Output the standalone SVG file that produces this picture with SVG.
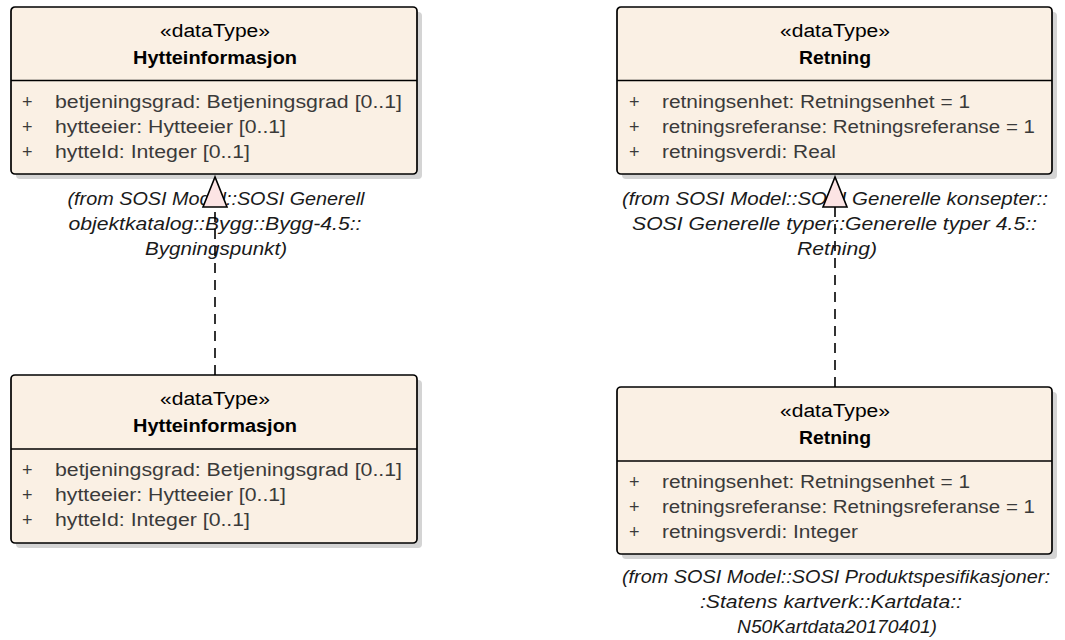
<svg xmlns="http://www.w3.org/2000/svg" width="1065" height="640" viewBox="0 0 1065 640">
<defs>
<style>
.shadow{fill:#d4d4d4;}
.box{fill:#FAF0E4;stroke:#000;stroke-width:1.7;}
.div{stroke:#000;stroke-width:1.6;}
.st{font-family:"Liberation Sans",Arial,sans-serif;font-size:18px;fill:#000;text-anchor:middle;}
.nm{font-family:"Liberation Sans",Arial,sans-serif;font-size:17.5px;font-weight:bold;fill:#000;text-anchor:middle;}
.at{font-family:"Liberation Sans",Arial,sans-serif;font-size:18px;fill:#3a3a3a;}
.lb{font-family:"Liberation Sans",Arial,sans-serif;font-size:18px;font-style:italic;fill:#1a1a1a;text-anchor:middle;}
.dash{stroke:#000;stroke-width:1.6;stroke-dasharray:10,7;fill:none;}
.head{fill:#FCE4E4;stroke:#000;stroke-width:1.6;stroke-linejoin:miter;}
</style>
</defs>
<rect width="1065" height="640" fill="#fff"/>

<g id="node-hytte-generell">
<rect class="shadow" x="16" y="12" width="406" height="167" rx="4"/>
<rect class="box" x="11" y="7" width="406" height="167" rx="4"/>
<line class="div" x1="11" y1="80.5" x2="417" y2="80.5"/>
<text class="st" x="215" y="37" textLength="110" lengthAdjust="spacingAndGlyphs">«dataType»</text>
<text class="nm" x="215" y="64" textLength="164" lengthAdjust="spacingAndGlyphs">Hytteinformasjon</text>
<text class="at" x="22" y="108">+</text>
<text class="at" x="22" y="133">+</text>
<text class="at" x="22" y="158">+</text>
<text class="at" x="55" y="108" textLength="347" lengthAdjust="spacingAndGlyphs">betjeningsgrad: Betjeningsgrad [0..1]</text>
<text class="at" x="55" y="133" textLength="231" lengthAdjust="spacingAndGlyphs">hytteeier: Hytteeier [0..1]</text>
<text class="at" x="55" y="158" textLength="195" lengthAdjust="spacingAndGlyphs">hytteId: Integer [0..1]</text>
</g>

<g id="label-hytte-generell">
<text class="lb" x="216" y="205" textLength="297" lengthAdjust="spacingAndGlyphs">(from SOSI Model::SOSI Generell</text>
<text class="lb" x="215" y="230" textLength="293" lengthAdjust="spacingAndGlyphs">objektkatalog::Bygg::Bygg-4.5::</text>
<text class="lb" x="216" y="255" textLength="142" lengthAdjust="spacingAndGlyphs">Bygningspunkt)</text>
</g>

<g id="node-retning-generell">
<rect class="shadow" x="622" y="12" width="435" height="167" rx="4"/>
<rect class="box" x="617" y="7" width="435" height="167" rx="4"/>
<line class="div" x1="617" y1="80.5" x2="1052" y2="80.5"/>
<text class="st" x="835" y="37" textLength="110" lengthAdjust="spacingAndGlyphs">«dataType»</text>
<text class="nm" x="835" y="64" textLength="72" lengthAdjust="spacingAndGlyphs">Retning</text>
<text class="at" x="629" y="108">+</text>
<text class="at" x="629" y="133">+</text>
<text class="at" x="629" y="158">+</text>
<text class="at" x="662" y="108" textLength="308" lengthAdjust="spacingAndGlyphs">retningsenhet: Retningsenhet = 1</text>
<text class="at" x="662" y="133" textLength="373" lengthAdjust="spacingAndGlyphs">retningsreferanse: Retningsreferanse = 1</text>
<text class="at" x="662" y="158" textLength="174" lengthAdjust="spacingAndGlyphs">retningsverdi: Real</text>
</g>

<g id="label-retning-generell">
<text class="lb" x="835" y="205" textLength="426" lengthAdjust="spacingAndGlyphs">(from SOSI Model::SOSI Generelle konsepter::</text>
<text class="lb" x="834.5" y="230" textLength="405" lengthAdjust="spacingAndGlyphs">SOSI Generelle typer::Generelle typer 4.5::</text>
<text class="lb" x="837" y="255" textLength="80" lengthAdjust="spacingAndGlyphs">Retning)</text>
</g>

<g id="node-hytte-n50">
<rect class="shadow" x="16" y="380" width="406" height="168" rx="4"/>
<rect class="box" x="11" y="375" width="406" height="168" rx="4"/>
<line class="div" x1="11" y1="449" x2="417" y2="449"/>
<text class="st" x="215" y="405" textLength="110" lengthAdjust="spacingAndGlyphs">«dataType»</text>
<text class="nm" x="215" y="432" textLength="164" lengthAdjust="spacingAndGlyphs">Hytteinformasjon</text>
<text class="at" x="22" y="476">+</text>
<text class="at" x="22" y="501">+</text>
<text class="at" x="22" y="526">+</text>
<text class="at" x="55" y="476" textLength="347" lengthAdjust="spacingAndGlyphs">betjeningsgrad: Betjeningsgrad [0..1]</text>
<text class="at" x="55" y="501" textLength="231" lengthAdjust="spacingAndGlyphs">hytteeier: Hytteeier [0..1]</text>
<text class="at" x="55" y="526" textLength="195" lengthAdjust="spacingAndGlyphs">hytteId: Integer [0..1]</text>
</g>

<g id="node-retning-n50">
<rect class="shadow" x="622" y="392" width="435" height="167" rx="4"/>
<rect class="box" x="617" y="387" width="435" height="167" rx="4"/>
<line class="div" x1="617" y1="461" x2="1052" y2="461"/>
<text class="st" x="835" y="417" textLength="110" lengthAdjust="spacingAndGlyphs">«dataType»</text>
<text class="nm" x="835" y="444" textLength="72" lengthAdjust="spacingAndGlyphs">Retning</text>
<text class="at" x="629" y="488">+</text>
<text class="at" x="629" y="513">+</text>
<text class="at" x="629" y="538">+</text>
<text class="at" x="662" y="488" textLength="308" lengthAdjust="spacingAndGlyphs">retningsenhet: Retningsenhet = 1</text>
<text class="at" x="662" y="513" textLength="373" lengthAdjust="spacingAndGlyphs">retningsreferanse: Retningsreferanse = 1</text>
<text class="at" x="662" y="538" textLength="196" lengthAdjust="spacingAndGlyphs">retningsverdi: Integer</text>
</g>

<g id="label-retning-n50">
<text class="lb" x="836" y="583" textLength="428" lengthAdjust="spacingAndGlyphs">(from SOSI Model::SOSI Produktspesifikasjoner:</text>
<text class="lb" x="831" y="608" textLength="262" lengthAdjust="spacingAndGlyphs">:Statens kartverk::Kartdata::</text>
<text class="lb" x="837" y="633" textLength="200" lengthAdjust="spacingAndGlyphs">N50Kartdata20170401)</text>
</g>

<g id="connectors">
<line class="dash" x1="215" y1="375" x2="215" y2="207"/>
<polygon class="head" points="215,177 203,207 227,207"/>
<line class="dash" x1="835" y1="387" x2="835" y2="207"/>
<polygon class="head" points="835,177 823,207 847,207"/>
</g>
</svg>
